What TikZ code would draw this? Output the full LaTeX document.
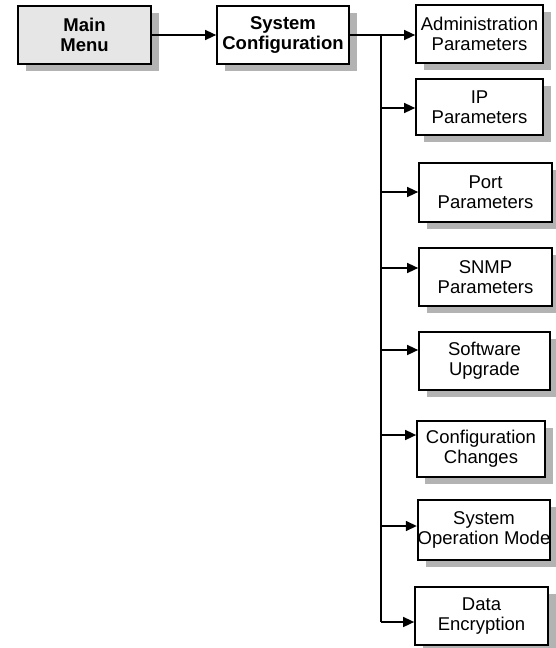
\documentclass[tikz,border=0pt]{standalone}
\usepackage{fontspec}
\newfontfamily\boxfont{Liberation Sans}
\usetikzlibrary{shadows,arrows.meta}
\definecolor{shadowgray}{HTML}{B3B3B3}
\definecolor{menufill}{HTML}{E6E6E6}
\begin{document}
\begin{tikzpicture}[x=1pt,y=-1pt,
  menubox/.style={draw=black, line width=1.7pt, fill=white, inner sep=0pt,
    align=center, font=\boxfont\fontsize{18.5}{20}\selectfont,
    general shadow={shadow xshift=8pt, shadow yshift=-7pt, fill=shadowgray}},
  topbox/.style={menubox, font=\boxfont\bfseries\fontsize{18.5}{20}\selectfont},
  link/.style={line width=1.5pt},
  arr/.style={link, -{Triangle[length=11pt,width=10pt]}}]
\useasboundingbox (0,0) rectangle (555,648);

% top level menus
\node[topbox, fill=menufill, minimum width=133pt, minimum height=58pt] (main) at (84.5,35) {Main\\Menu};
\node[topbox, minimum width=132pt, minimum height=58pt] (syscfg) at (283,35) {System\\Configuration};

% sub-menu boxes
\node[menubox, minimum width=127pt, minimum height=58pt] (admin) at (479.5,34) {Administration\\Parameters};
\node[menubox, minimum width=127pt, minimum height=56pt] (ip) at (479.5,107) {IP\\Parameters};
\node[menubox, minimum width=133pt, minimum height=59pt] (port) at (485.5,192.5) {Port\\Parameters};
\node[menubox, minimum width=133pt, minimum height=58pt] (snmp) at (485.5,277) {SNMP\\Parameters};
\node[menubox, minimum width=131pt, minimum height=58pt] (soft) at (484.5,361) {Software\\Upgrade};
\node[menubox, minimum width=128pt, minimum height=56pt] (cfgch) at (481,449) {Configuration\\Changes};
\node[menubox, minimum width=132pt, minimum height=60pt] (sysop) at (484,530) {System\\Operation Mode};
\node[menubox, minimum width=133pt, minimum height=58pt] (data) at (481.5,616) {Data\\Encryption};

% branch points on the vertical trunk
\coordinate (t0) at (381,35);
\coordinate (b2) at (381,108);
\coordinate (b3) at (381,192);
\coordinate (b4) at (381,268);
\coordinate (b5) at (381,350);
\coordinate (b6) at (381,435);
\coordinate (b7) at (381,526);
\coordinate (b8) at (381,622);

% connectors
\draw[arr] (main.east) -- (syscfg.west);
\draw[arr] (syscfg.east |- t0) -- (t0 -| admin.west);
\draw[link] (t0) -- (b8);
\draw[arr] (b2) -- (b2 -| ip.west);
\draw[arr] (b3) -- (b3 -| port.west);
\draw[arr] (b4) -- (b4 -| snmp.west);
\draw[arr] (b5) -- (b5 -| soft.west);
\draw[arr] (b6) -- (b6 -| cfgch.west);
\draw[arr] (b7) -- (b7 -| sysop.west);
\draw[arr] (b8) -- (b8 -| data.west);
\end{tikzpicture}
\end{document}
